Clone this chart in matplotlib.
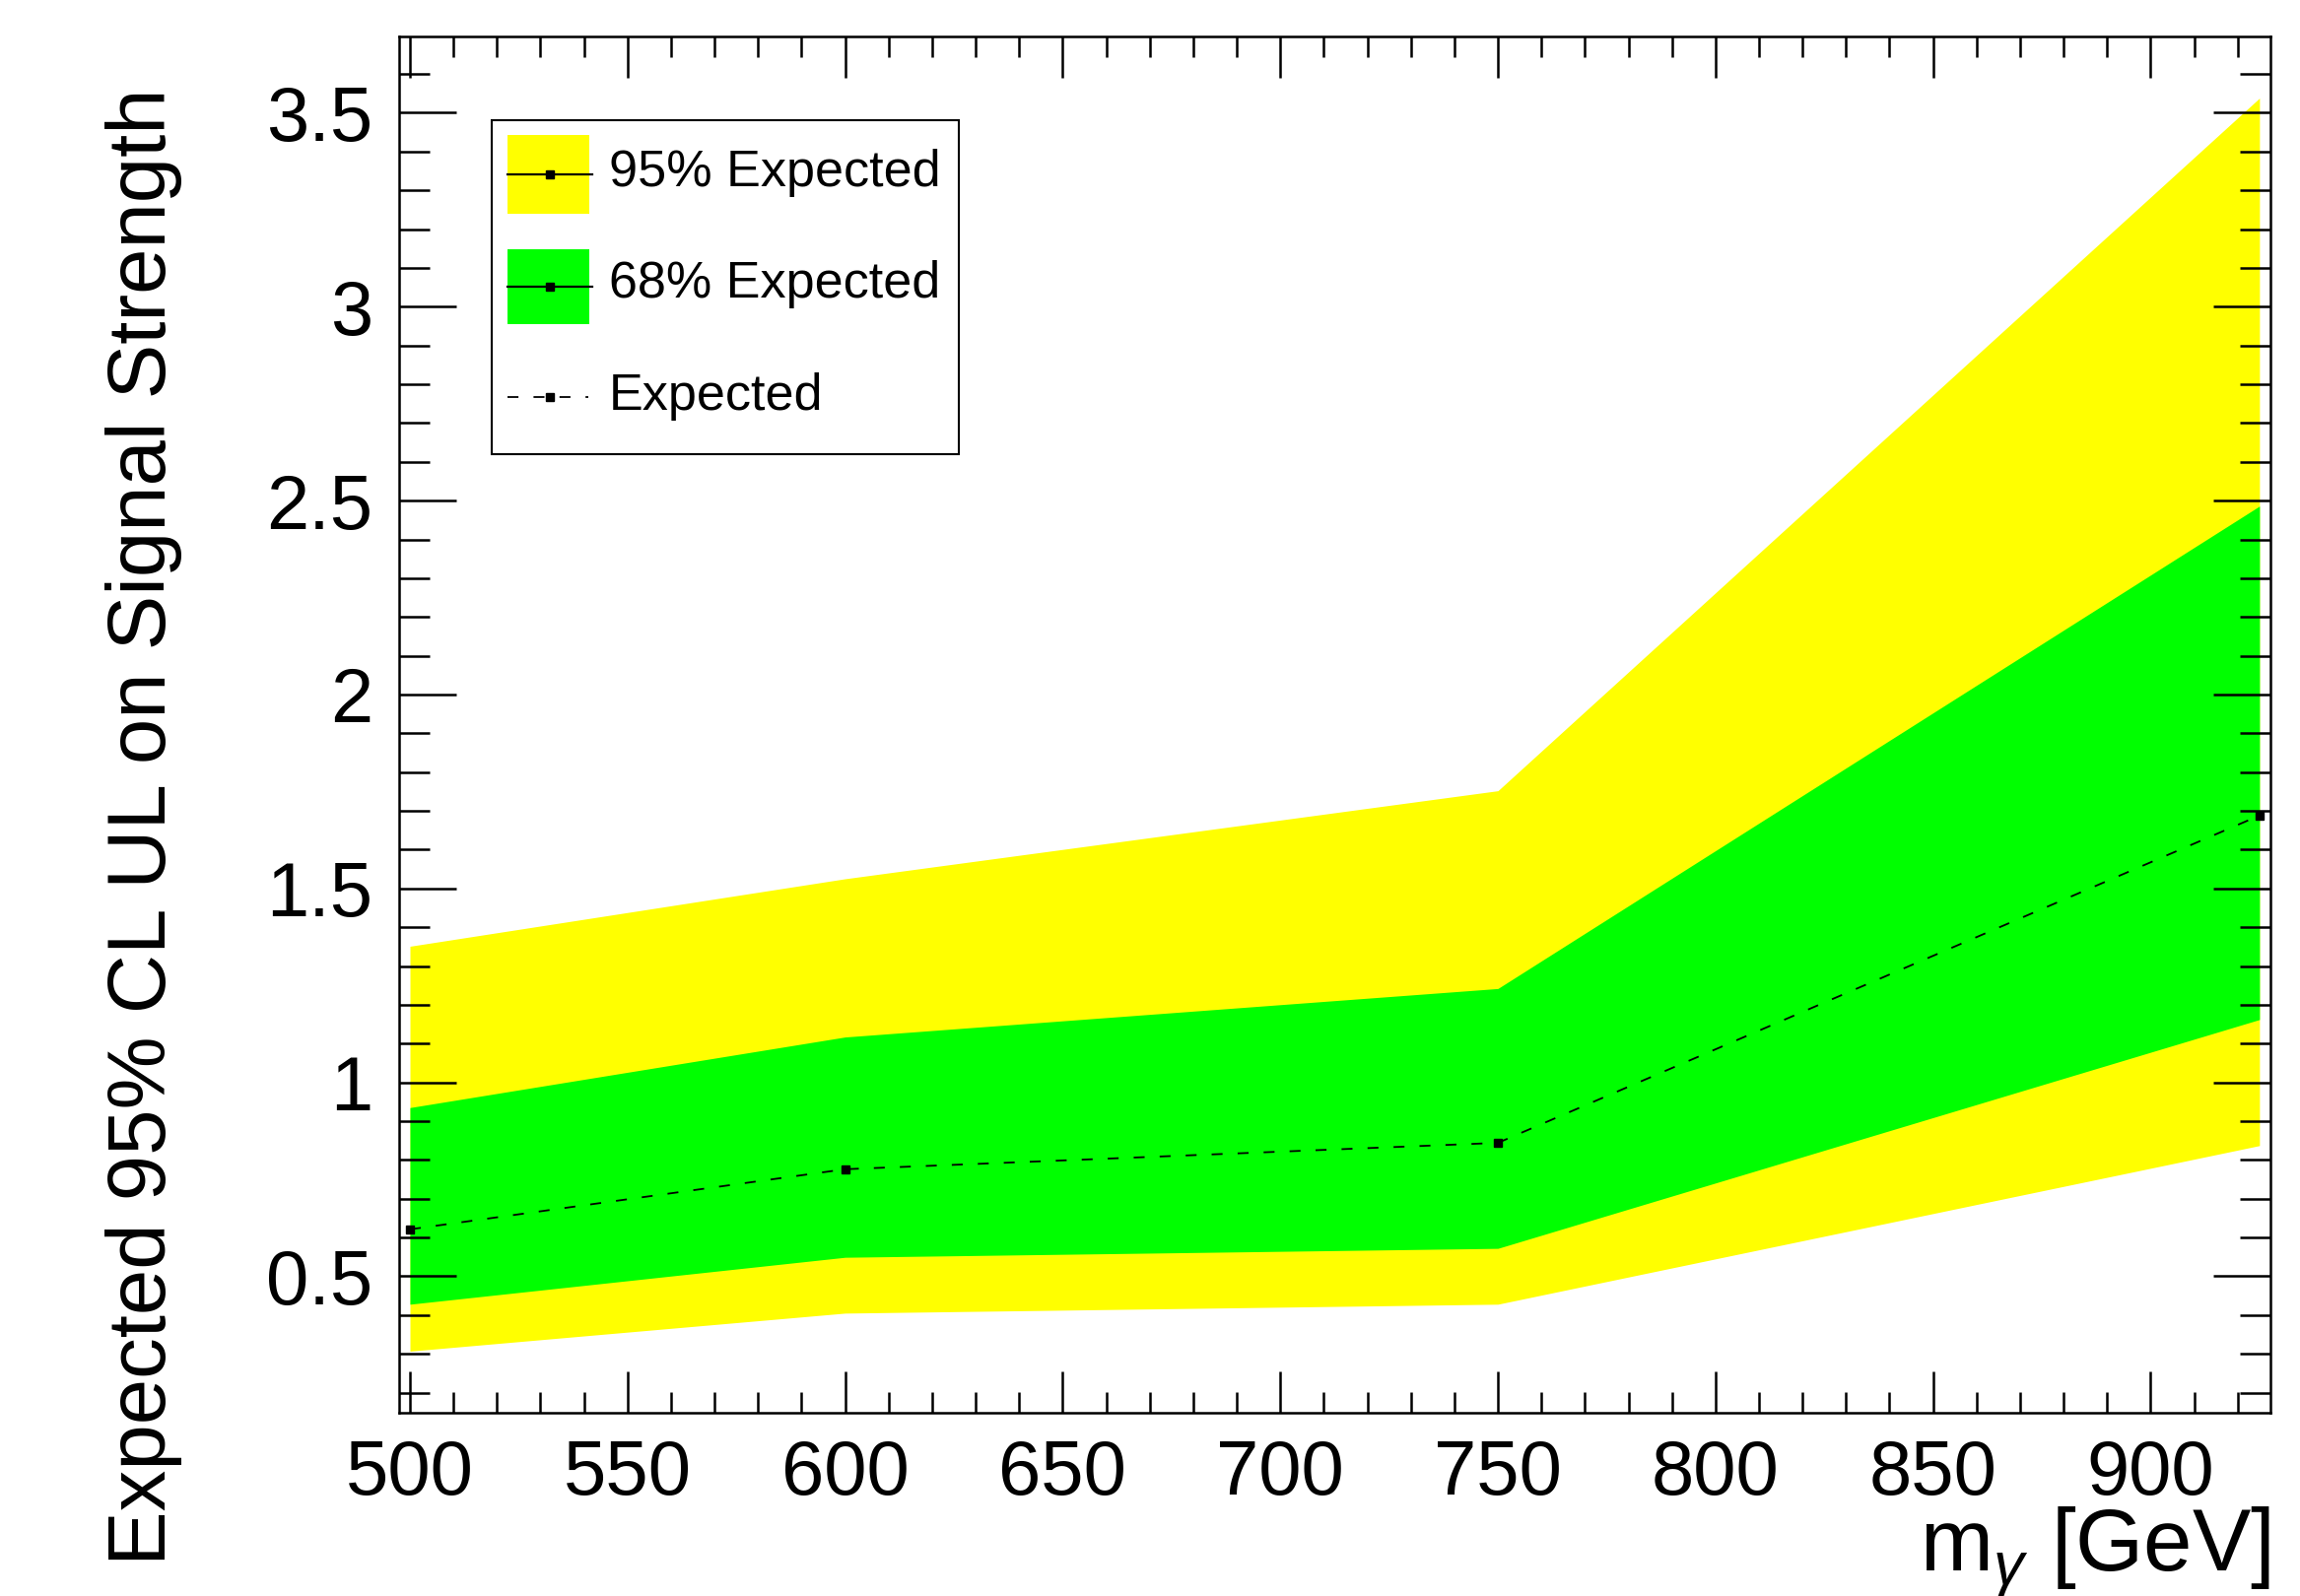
import numpy as np
import matplotlib.pyplot as plt
from matplotlib.patches import Rectangle
from matplotlib.lines import Line2D
from matplotlib.ticker import MultipleLocator

# mass points and limits
mass = [500, 600, 750, 925]
expected = [0.621, 0.776, 0.844, 1.688]
band68_lo = [0.428, 0.549, 0.572, 1.162]
band68_hi = [0.935, 1.117, 1.242, 2.486]
band95_lo = [0.307, 0.405, 0.428, 0.837]
band95_hi = [1.351, 1.525, 1.752, 3.538]
legend_labels = ['95% Expected', '68% Expected', 'Expected']

plt.rcParams['font.family'] = 'Liberation Sans'
plt.rcParams['mathtext.fontset'] = 'custom'
plt.rcParams['mathtext.rm'] = 'Liberation Sans'
plt.rcParams['mathtext.it'] = 'Liberation Sans:italic'
plt.rcParams['lines.scale_dashes'] = False

fig = plt.figure(figsize=(23.34, 16.2), dpi=100)
ax = fig.add_axes([0.1735, 0.1148, 0.8136, 0.8624])

ax.fill_between(mass, band95_lo, band95_hi, color='#ffff00', lw=0, zorder=1)
ax.fill_between(mass, band68_lo, band68_hi, color='#00ff00', lw=0, zorder=1.1)
ax.plot(mass, expected, color='black', lw=1.3, dashes=(8, 11),
        marker='s', ms=6, zorder=2)

ax.set_xlim(497.5, 927.5)
ax.set_ylim(0.148, 3.697)

ax.xaxis.set_major_locator(MultipleLocator(50))
ax.xaxis.set_minor_locator(MultipleLocator(10))
ax.yaxis.set_major_locator(MultipleLocator(0.5))
ax.yaxis.set_minor_locator(MultipleLocator(0.1))
ax.yaxis.set_major_formatter(plt.FuncFormatter(lambda v, p: '%g' % v))

ax.tick_params(axis='both', which='both', direction='in', top=True, right=True,
               width=1.8, labelsize=56, pad=19)
ax.tick_params(axis='x', which='major', length=30)
ax.tick_params(axis='x', which='minor', length=15)
ax.tick_params(axis='y', which='major', length=42)
ax.tick_params(axis='y', which='minor', length=22)
for s in ax.spines.values():
    s.set_linewidth(1.8)

# legend box
tr = ax.transAxes
ax.add_patch(Rectangle((0.0493, 0.6965), 0.2501, 0.2425, transform=tr,
                       fill=False, ec='black', lw=1.5, zorder=5, clip_on=False))
ax.add_patch(Rectangle((0.0579, 0.8712), 0.0437, 0.0572, transform=tr,
                       fc='#ffff00', lw=0, zorder=5))
ax.add_patch(Rectangle((0.0579, 0.7910), 0.0437, 0.0544, transform=tr,
                       fc='#00ff00', lw=0, zorder=5))
for yy in [0.8998, 0.8182]:
    ax.add_line(Line2D([0.0579, 0.1030], [yy, yy], transform=tr, color='black',
                       lw=1.6, zorder=6))
    ax.add_line(Line2D([0.0805], [yy], transform=tr, color='black', marker='s',
                       ms=6, zorder=6))
ax.add_line(Line2D([0.0579, 0.1010], [0.738, 0.738], transform=tr, color='black',
                   lw=1.3, dashes=(8, 11), zorder=6))
ax.add_line(Line2D([0.0805], [0.738], transform=tr, color='black', marker='s',
                   ms=6, zorder=6))
for yy, lab in zip([0.9005, 0.8196, 0.738], legend_labels):
    ax.text(0.1122, yy, lab, transform=tr, fontsize=37.5, va='center', ha='left',
            zorder=6)

fig.text(0.0625, 0.482, 'Expected 95% CL UL on Signal Strength', rotation=90,
         fontsize=60, ha='center', va='center')
fig.text(0.9871, 0.016, r'm$_{\gamma}$ [GeV]', fontsize=64, ha='right',
         va='baseline')

fig.savefig('out.png', dpi=100)
